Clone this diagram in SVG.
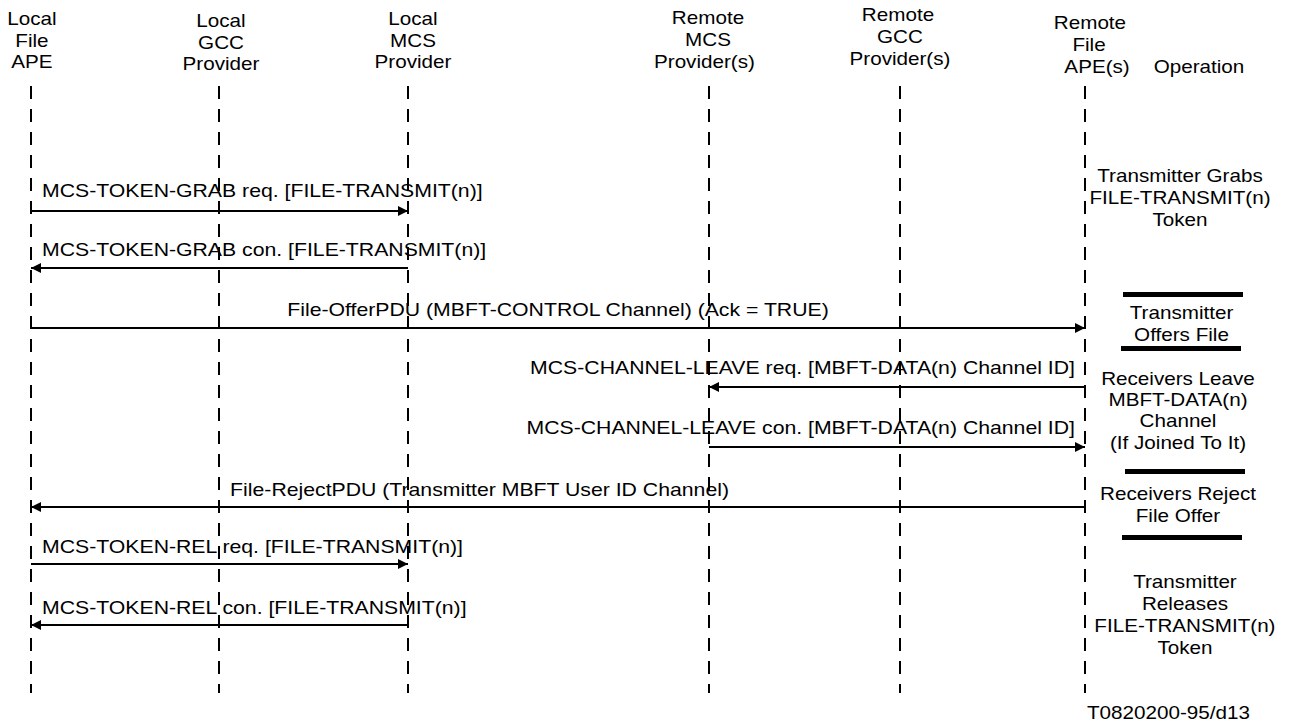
<svg xmlns="http://www.w3.org/2000/svg" width="1290" height="726" viewBox="0 0 1290 726">
  <style>
    .life { stroke: #000; stroke-width: 2; stroke-dasharray: 13 10; fill: none; }
    .msg { stroke: #000; stroke-width: 2; fill: none; }
    .bar { fill: #000; }
    text { font-family: "Liberation Sans", Arial, sans-serif; font-size: 17.5px; fill: #000; }
    text.lbl { font-size: 18px; }
    .c { text-anchor: middle; }
    .e { text-anchor: end; }
  </style>
  <defs>
    <marker id="head" viewBox="0 0 10 10" refX="10" refY="5" markerWidth="10" markerHeight="11" markerUnits="userSpaceOnUse" orient="auto">
      <path d="M0,0 L10,5 L0,10 Z" fill="#000"/>
    </marker>
  </defs>

  <rect width="1290" height="726" fill="#fff"/>

  <!-- lifelines -->
  <g id="lifelines">
    <line class="life" x1="31" y1="86" x2="31" y2="693"/>
    <line class="life" x1="219" y1="86" x2="219" y2="693"/>
    <line class="life" x1="408" y1="86" x2="408" y2="693"/>
    <line class="life" x1="709" y1="86" x2="709" y2="693"/>
    <line class="life" x1="900" y1="86" x2="900" y2="693"/>
    <line class="life" x1="1085" y1="86" x2="1085" y2="693"/>
  </g>

  <!-- messages -->
  <g id="connectors">
    <line class="msg" x1="31" y1="211" x2="408" y2="211" marker-end="url(#head)"/>
    <line class="msg" x1="408" y1="268" x2="31" y2="268" marker-end="url(#head)"/>
    <line class="msg" x1="31" y1="328" x2="1085" y2="328" marker-end="url(#head)"/>
    <line class="msg" x1="1085" y1="387" x2="709" y2="387" marker-end="url(#head)"/>
    <line class="msg" x1="709" y1="447" x2="1085" y2="447" marker-end="url(#head)"/>
    <line class="msg" x1="1085" y1="507" x2="31" y2="507" marker-end="url(#head)"/>
    <line class="msg" x1="31" y1="564" x2="408" y2="564" marker-end="url(#head)"/>
    <line class="msg" x1="408" y1="625" x2="31" y2="625" marker-end="url(#head)"/>
  </g>

  <!-- operation separators -->
  <g id="separators">
    <rect class="bar" x="1123" y="292" width="120" height="5"/>
    <rect class="bar" x="1121" y="346" width="120" height="5"/>
    <rect class="bar" x="1125" y="469" width="120" height="5"/>
    <rect class="bar" x="1122" y="535" width="120" height="5"/>
  </g>

  <!-- labels set in a slightly widened typeface -->
  <g transform="scale(1.18 1)">
    <g id="local-file-ape">
      <text class="c" x="27.1" y="25">Local</text>
      <text class="c" x="27.1" y="47">File</text>
      <text class="c" x="27.1" y="68">APE</text>
    </g>
    <g id="local-gcc">
      <text class="c" x="187.3" y="27">Local</text>
      <text class="c" x="187.3" y="49">GCC</text>
      <text class="c" x="187.3" y="70">Provider</text>
    </g>
    <g id="local-mcs">
      <text class="c" x="350" y="25">Local</text>
      <text class="c" x="350" y="47">MCS</text>
      <text class="c" x="350" y="68">Provider</text>
    </g>
    <g id="remote-mcs">
      <text class="c" x="600" y="24">Remote</text>
      <text class="c" x="600" y="46">MCS</text>
      <text class="c" x="597" y="68">Provider(s)</text>
    </g>
    <g id="remote-gcc">
      <text class="c" x="761" y="21">Remote</text>
      <text class="c" x="762.7" y="43">GCC</text>
      <text class="c" x="762.7" y="65">Provider(s)</text>
    </g>
    <g id="remote-file-ape">
      <text class="c" x="923.7" y="29">Remote</text>
      <text class="c" x="922.9" y="51">File</text>
      <text class="c" x="929.7" y="73">APE(s)</text>
    </g>
    <g id="operation">
      <text class="c" x="1016.1" y="73">Operation</text>
    </g>

    <g id="message-labels">
      <text class="lbl" x="35.6" y="197">MCS-TOKEN-GRAB req. [FILE-TRANSMIT(n)]</text>
      <text class="lbl" x="35.6" y="256">MCS-TOKEN-GRAB con. [FILE-TRANSMIT(n)]</text>
      <text class="lbl c" x="472.9" y="316">File-OfferPDU (MBFT-CONTROL Channel) (Ack = TRUE)</text>
      <text class="lbl e" x="911" y="374">MCS-CHANNEL-LEAVE req. [MBFT-DATA(n) Channel ID]</text>
      <text class="lbl e" x="911" y="434">MCS-CHANNEL-LEAVE con. [MBFT-DATA(n) Channel ID]</text>
      <text class="lbl c" x="406.4" y="496">File-RejectPDU (Transmitter MBFT User ID Channel)</text>
      <text class="lbl" x="35.6" y="553">MCS-TOKEN-REL req. [FILE-TRANSMIT(n)]</text>
      <text class="lbl" x="35.6" y="614">MCS-TOKEN-REL con. [FILE-TRANSMIT(n)]</text>
    </g>

    <g id="op-grab">
      <text class="c" x="1000" y="182">Transmitter Grabs</text>
      <text class="c" x="1000" y="204">FILE-TRANSMIT(n)</text>
      <text class="c" x="1000" y="226">Token</text>
    </g>
    <g id="op-offer">
      <text class="c" x="1001.3" y="319">Transmitter</text>
      <text class="c" x="1001.3" y="341">Offers File</text>
    </g>
    <g id="op-leave">
      <text class="c" x="998.3" y="385">Receivers Leave</text>
      <text class="c" x="998.3" y="406">MBFT-DATA(n)</text>
      <text class="c" x="998.3" y="427">Channel</text>
      <text class="c" x="998.3" y="449">(If Joined To It)</text>
    </g>
    <g id="op-reject">
      <text class="c" x="998.3" y="500">Receivers Reject</text>
      <text class="c" x="998.3" y="522">File Offer</text>
    </g>
    <g id="op-release">
      <text class="c" x="1004.2" y="588">Transmitter</text>
      <text class="c" x="1004.2" y="610">Releases</text>
      <text class="c" x="1004.2" y="632">FILE-TRANSMIT(n)</text>
      <text class="c" x="1004.2" y="654">Token</text>
    </g>
    <text x="921.2" y="719">T0820200-95/d13</text>
  </g>
</svg>
